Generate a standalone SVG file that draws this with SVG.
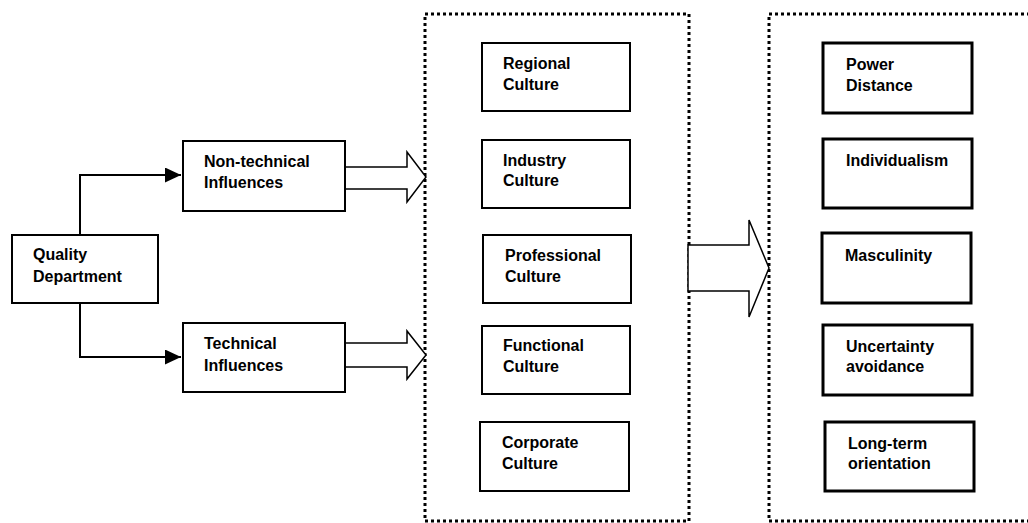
<svg xmlns="http://www.w3.org/2000/svg" width="1028" height="523" viewBox="0 0 1028 523">
<style>
  .box{fill:#fff;stroke:#000;stroke-width:2}
  .hbox{fill:#fff;stroke:#000;stroke-width:3}
  .dot{fill:none;stroke:#000;stroke-width:3;stroke-dasharray:3 3}
  .conn{fill:none;stroke:#000;stroke-width:2}
  .hollow{fill:#fff;stroke:#000;stroke-width:1.5;stroke-linejoin:miter}
  text{font-family:"Liberation Sans",Arial,sans-serif;font-weight:bold;font-size:16px;fill:#000}
</style>
<defs>
  <marker id="ah" markerWidth="16" markerHeight="15" refX="16" refY="7.5" orient="auto" markerUnits="userSpaceOnUse">
    <path d="M0,0 L16,7.5 L0,15 Z" fill="#000"/>
  </marker>
</defs>
<rect width="1028" height="523" fill="#fff"/>
<g id="containers">
  <rect id="culture-group" class="dot" x="425" y="14" width="264" height="507"/>
  <rect id="hofstede-group" class="dot" x="769" y="14" width="270" height="507"/>
</g>
<g id="connectors">
  <path class="conn" d="M80,235 V175 H181" marker-end="url(#ah)"/>
  <path class="conn" d="M80,303 V357 H181" marker-end="url(#ah)"/>
  <path class="hollow" d="M345,167 H407 V152 L426,177 L407,202 V189 H345 Z"/>
  <path class="hollow" d="M345,343 H407 V331 L426,355 L407,379 V367 H345 Z"/>
  <path class="hollow" d="M688,245 H749 V220 L769,268 L749,317 V291 H688 Z"/>
</g>
<g id="quality">
  <rect class="box" x="12" y="235" width="146" height="68"/>
  <text x="33" y="260">Quality</text>
  <text x="33" y="282">Department</text>
</g>
<g id="nontech">
  <rect class="box" x="183" y="141" width="162" height="70"/>
  <text x="204" y="167">Non-technical</text>
  <text x="204" y="188">Influences</text>
</g>
<g id="tech">
  <rect class="box" x="183" y="323" width="162" height="69"/>
  <text x="204" y="349">Technical</text>
  <text x="204" y="371">Influences</text>
</g>
<g id="regional">
  <rect class="box" x="482" y="43" width="148" height="68"/>
  <text x="503" y="69">Regional</text>
  <text x="503" y="90">Culture</text>
</g>
<g id="industry">
  <rect class="box" x="482" y="140" width="148" height="68"/>
  <text x="503" y="166">Industry</text>
  <text x="503" y="186">Culture</text>
</g>
<g id="professional">
  <rect class="box" x="483" y="235" width="148" height="68"/>
  <text x="505" y="261">Professional</text>
  <text x="505" y="282">Culture</text>
</g>
<g id="functional">
  <rect class="box" x="482" y="326" width="148" height="68"/>
  <text x="503" y="351">Functional</text>
  <text x="503" y="372">Culture</text>
</g>
<g id="corporate">
  <rect class="box" x="480" y="422" width="149" height="69"/>
  <text x="502" y="448">Corporate</text>
  <text x="502" y="469">Culture</text>
</g>
<g id="power">
  <rect class="hbox" x="823" y="43" width="149" height="70"/>
  <text x="846" y="70">Power</text>
  <text x="846" y="91">Distance</text>
</g>
<g id="individualism">
  <rect class="hbox" x="823" y="139" width="149" height="69"/>
  <text x="846" y="166">Individualism</text>
</g>
<g id="masculinity">
  <rect class="hbox" x="822" y="233" width="149" height="70"/>
  <text x="845" y="261">Masculinity</text>
</g>
<g id="uncertainty">
  <rect class="hbox" x="823" y="325" width="149" height="70"/>
  <text x="846" y="352">Uncertainty</text>
  <text x="846" y="372">avoidance</text>
</g>
<g id="longterm">
  <rect class="hbox" x="825" y="422" width="149" height="69"/>
  <text x="848" y="449">Long-term</text>
  <text x="848" y="469">orientation</text>
</g>
</svg>
